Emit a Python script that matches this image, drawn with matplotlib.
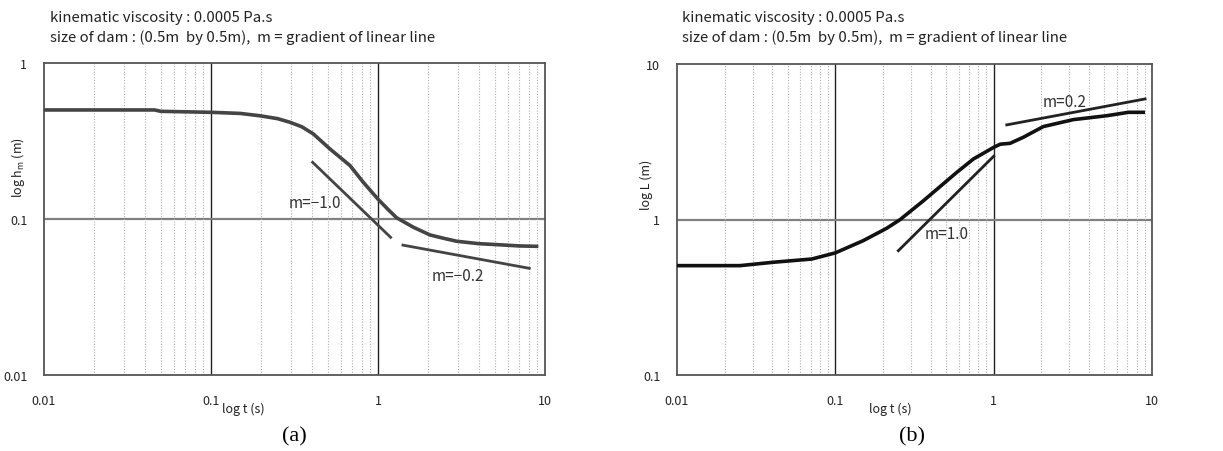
import matplotlib
matplotlib.use("Agg")
import matplotlib.pyplot as plt
from matplotlib.ticker import LogLocator, NullFormatter, FixedLocator, FixedFormatter

plt.rcParams['font.family'] = ['Noto Sans CJK JP', 'DejaVu Sans']

# ---- data (a): height h_m vs time
t_a = [0.01, 0.046, 0.05, 0.1, 0.15, 0.196, 0.25, 0.297, 0.35, 0.41, 0.516, 0.68, 0.816, 1.0, 1.15, 1.29, 1.63, 2.05, 2.5, 2.96, 4.0, 5.14, 7.0, 8.9]
h_a = [0.5, 0.5, 0.49, 0.483, 0.475, 0.459, 0.44, 0.417, 0.39, 0.351, 0.281, 0.22, 0.172, 0.134, 0.115, 0.102, 0.0885, 0.079, 0.075, 0.072, 0.0695, 0.0685, 0.0672, 0.0668]
fit1_t_a = [0.406, 1.19]
fit1_h_a = [0.231, 0.0763]
fit2_t_a = [1.41, 8.05]
fit2_h_a = [0.068, 0.0483]

# ---- data (b): length L vs time
t_b = [0.0101, 0.025, 0.0406, 0.071, 0.1, 0.15, 0.211, 0.257, 0.36, 0.585, 0.745, 1.0, 1.1, 1.27, 1.54, 2.06, 3.19, 5.18, 7.1, 8.8]
L_b = [0.505, 0.505, 0.531, 0.557, 0.61, 0.731, 0.878, 1.0, 1.32, 2.01, 2.45, 2.91, 3.05, 3.09, 3.38, 3.96, 4.39, 4.65, 4.89, 4.89]
fit1_t_b = [0.25, 1.0]
fit1_L_b = [0.63, 2.55]
fit2_t_b = [1.21, 9.04]
fit2_L_b = [4.06, 5.96]

x_ticks = [0.01, 0.1, 1, 10]
x_ticklabels = ['0.01', '0.1', '1', '10']
header1 = 'kinematic viscosity : 0.0005 Pa.s'
header2 = 'size of dam : (0.5m  by 0.5m),  m = gradient of linear line'

W, H = 1223, 452
fig = plt.figure(figsize=(W / 100, H / 100), dpi=100)


def px_axes(x0, y0, x1, y1):
    return fig.add_axes([x0 / W, 1 - y1 / H, (x1 - x0) / W, (y1 - y0) / H])


def style(ax, ylim, yticks, yticklabels, hline):
    ax.set_xscale('log')
    ax.set_yscale('log')
    ax.set_xlim(0.01, 10)
    ax.set_ylim(*ylim)
    ax.xaxis.set_major_locator(FixedLocator(x_ticks))
    ax.xaxis.set_major_formatter(FixedFormatter(x_ticklabels))
    ax.xaxis.set_minor_locator(LogLocator(base=10, subs=range(2, 10)))
    ax.xaxis.set_minor_formatter(NullFormatter())
    ax.yaxis.set_major_locator(FixedLocator(yticks))
    ax.yaxis.set_major_formatter(FixedFormatter(yticklabels))
    ax.yaxis.set_minor_locator(FixedLocator([]))
    ax.tick_params(axis='both', which='both', length=0, labelsize=9, colors='#222222')
    ax.tick_params(axis='x', pad=14)
    ax.tick_params(axis='y', pad=12)
    ax.grid(True, which='minor', axis='x', color='#b0b0b0', linestyle=(0, (1, 1.5)), linewidth=0.8)
    for v in [0.1, 1]:
        ax.axvline(v, color='#222222', linewidth=1.0, zorder=1)
    ax.axhline(hline, color='#808080', linewidth=1.6, zorder=1)
    for s in ax.spines.values():
        s.set_color('#555555')
        s.set_linewidth(1.3)


# ---------- (a)
ax1 = px_axes(44, 64, 545, 376)
style(ax1, (0.01, 1), [0.01, 0.1, 1], ['0.01', '0.1', '1'], 0.1)
ax1.plot(t_a, h_a, color='#444444', linewidth=2.6, zorder=3)
ax1.plot(fit1_t_a, fit1_h_a, color='#444444', linewidth=2.0, zorder=3)
ax1.plot(fit2_t_a, fit2_h_a, color='#444444', linewidth=2.0, zorder=3)
ax1.text(0.42, 0.128, 'm=\u22121.0', fontsize=11, ha='center', va='center', color='#333333')
ax1.text(3.0, 0.0437, 'm=\u22120.2', fontsize=11, ha='center', va='center', color='#333333')
fig.text(50 / W, 1 - 18 / H, header1, fontsize=10.8, ha='left', va='center', color='#222222')
fig.text(50 / W, 1 - 38 / H, header2, fontsize=10.8, ha='left', va='center', color='#222222')
fig.text(243 / W, 1 - 409 / H, 'log t (s)', fontsize=9, ha='center', va='center', color='#222222')
fig.text(18 / W, 1 - 168 / H, 'log h$_\\mathregular{m}$ (m)', fontsize=9, rotation=90, ha='center', va='center', color='#222222')
fig.text(294 / W, 1 - 437 / H, '(a)', fontsize=16, family='Liberation Serif', ha='center', va='center')

# ---------- (b)
ax2 = px_axes(677, 65, 1152, 376)
style(ax2, (0.1, 10), [0.1, 1, 10], ['0.1', '1', '10'], 1)
ax2.plot(t_b, L_b, color='#111111', linewidth=2.6, zorder=3)
ax2.plot(fit1_t_b, fit1_L_b, color='#222222', linewidth=2.0, zorder=3)
ax2.plot(fit2_t_b, fit2_L_b, color='#222222', linewidth=2.0, zorder=3)
ax2.text(0.503, 0.807, 'm=1.0', fontsize=11, ha='center', va='center', color='#333333')
ax2.text(2.82, 5.7, 'm=0.2', fontsize=11, ha='center', va='center', color='#333333')
fig.text(682 / W, 1 - 18 / H, header1, fontsize=10.8, ha='left', va='center', color='#222222')
fig.text(682 / W, 1 - 38 / H, header2, fontsize=10.8, ha='left', va='center', color='#222222')
fig.text(890 / W, 1 - 409 / H, 'log t (s)', fontsize=9, ha='center', va='center', color='#222222')
fig.text(646 / W, 1 - 185 / H, 'log L (m)', fontsize=9, rotation=90, ha='center', va='center', color='#222222')
fig.text(912 / W, 1 - 437 / H, '(b)', fontsize=16, family='Liberation Serif', ha='center', va='center')

fig.savefig('out.png', dpi=100)
